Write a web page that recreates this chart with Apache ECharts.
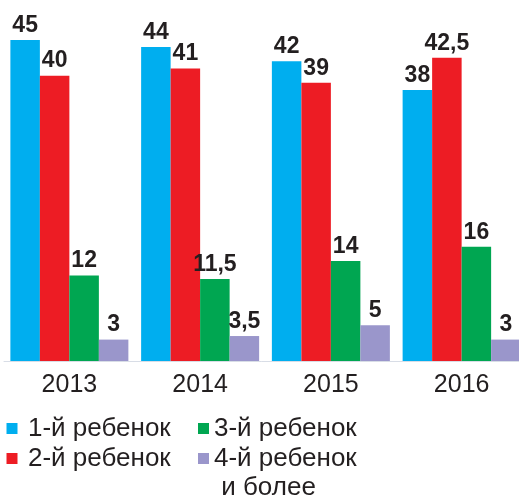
<!DOCTYPE html>
<html><head><meta charset="utf-8">
<script src="https://cdn.jsdelivr.net/npm/echarts@6/dist/echarts.min.js"></script>
<style>html,body{margin:0;padding:0;background:#fff}#c{width:519px;height:499px}</style>
</head><body><div id="c"></div>
<script>
const categories = ['2013', '2014', '2015', '2016'];
const seriesNames = ['1-й ребенок', '2-й ребенок', '3-й ребенок', '4-й ребенок и более'];
const child1 = [45, 44, 42, 38];
const child2 = [40, 41, 39, 42.5];
const child3 = [12, 11.5, 14, 16];
const child4 = [3, 3.5, 5, 3];
const colors = ['#00aeef', '#ed1c24', '#00a651', '#9a96cb'];

const FONT = "'Liberation Sans', Arial, sans-serif";
const chart = echarts.init(document.getElementById('c'), null, {renderer: 'canvas'});
const values = [child1, child2, child3, child4];

const series = values.map((d, i) => ({
  name: seriesNames[i],
  type: 'bar',
  data: d,
  barWidth: 29.5,
  barGap: '0%',
  itemStyle: {color: colors[i]},
  label: {
    show: true, position: 'top', distance: 3,
    fontFamily: FONT, fontWeight: 'bold', fontSize: 23, color: '#231f20',
    formatter: p => String(p.value).replace('.', ',')
  }
}));

const icon = 'path://M0,0H10V10H0Z';
function leg(name, left, top, w) {
  return {
    data: [name], orient: 'vertical', left: left, top: top, padding: 0,
    icon: icon, itemWidth: w, itemHeight: 11, symbolKeepAspect: true,
    itemStyle: {borderWidth: 0},
    selectedMode: false,
    textStyle: {fontFamily: FONT, fontSize: 26, color: '#231f20', lineHeight: 29},
    formatter: n => n === seriesNames[3] ? ' \n4-й ребенок\n\u00a0и более' : n
  };
}

chart.setOption({
  animation: false,
  color: colors,
  grid: {left: 4, right: -8, top: 4.3, bottom: 138, containLabel: false, outerBoundsMode: 'none'},
  xAxis: {
    type: 'category', data: categories,
    axisLine: {show: true, lineStyle: {color: '#d8dde6', width: 1}},
    axisTick: {show: false},
    axisLabel: {fontFamily: FONT, fontSize: 25, color: '#231f20', margin: 12}
  },
  yAxis: {
    type: 'value', min: 0, max: 50, show: false,
    splitLine: {show: false}
  },
  legend: [
    leg(seriesNames[0], 6.5, 414, 22),
    leg(seriesNames[1], 6.5, 444, 22),
    leg(seriesNames[2], 198, 414, 11),
    leg(seriesNames[3], 198, 415, 11)
  ],
  series: series
});
</script></body></html>
